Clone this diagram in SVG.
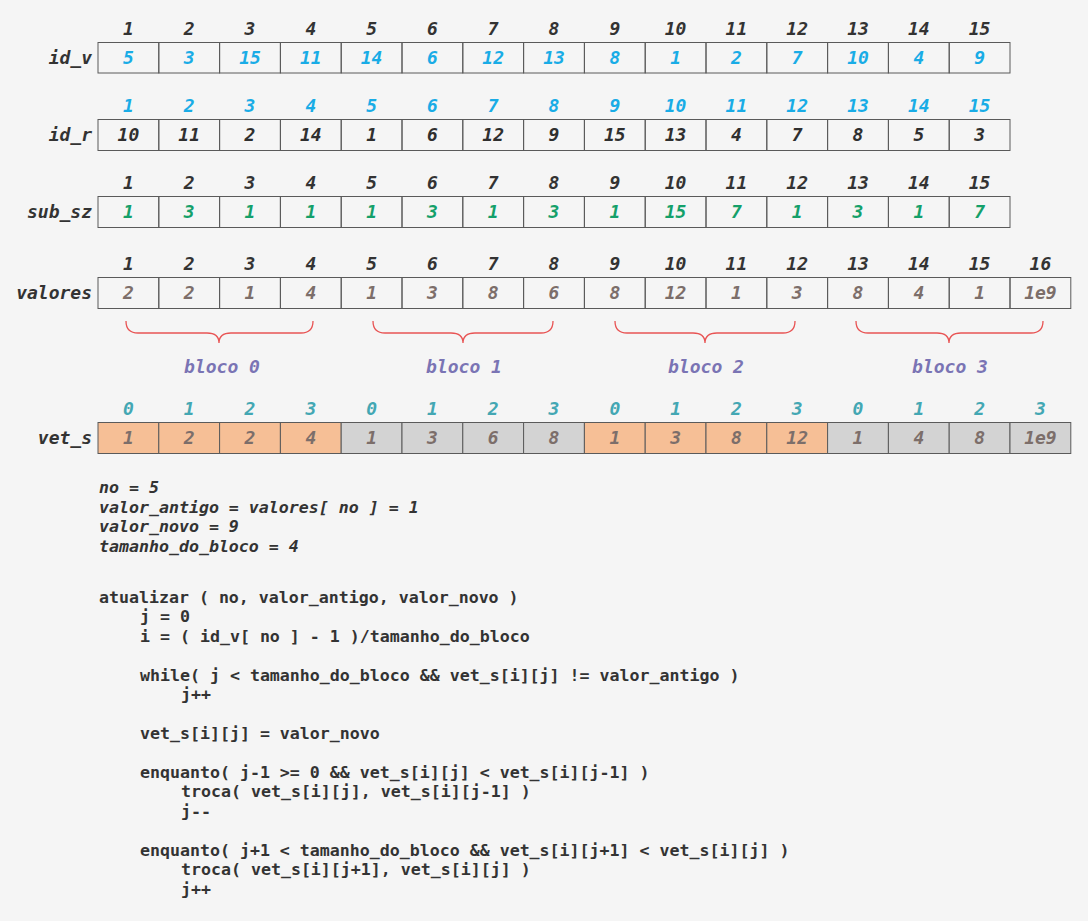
<svg xmlns="http://www.w3.org/2000/svg" width="1088" height="921" viewBox="0 0 1088 921">
<style>
text{font-family:"DejaVu Sans Mono","Liberation Mono",monospace}
.a{font-size:18px;font-weight:bold;font-style:italic;text-anchor:middle}
.lbl{font-size:18px;font-weight:bold;font-style:italic;text-anchor:end;fill:#333}
.h{fill:#333}
.cy{fill:#19ace6}
.dk{fill:#2f2f2f}
.gr{fill:#14a06a}
.br{fill:#7c6e6a}
.tl{fill:#43a7b3}
.cell{fill:none;stroke:#5a5a5a;stroke-width:1}
.o{fill:#f6bf96;stroke:#5a5a5a;stroke-width:1}
.g{fill:#d3d3d3;stroke:#5a5a5a;stroke-width:1}
.brace{fill:none;stroke:#e85454;stroke-width:1.3}
.bl{font-size:18px;font-weight:bold;font-style:italic;text-anchor:middle;fill:#7a74b4}
.code{font-size:16.6px;font-weight:bold;fill:#333}
.ci{font-size:16.6px;font-weight:bold;font-style:italic;fill:#333}
</style>
<rect width="1088" height="921" fill="#f5f5f5"/>

<g id="id_v">
<text class="lbl" x="92" y="64">id_v</text>
<g class="a h">
<text x="128.4" y="35">1</text><text x="189.2" y="35">2</text><text x="250" y="35">3</text><text x="310.8" y="35">4</text><text x="371.6" y="35">5</text><text x="432.4" y="35">6</text><text x="493.2" y="35">7</text><text x="554" y="35">8</text><text x="614.8" y="35">9</text><text x="675.6" y="35">10</text><text x="736.4" y="35">11</text><text x="797.2" y="35">12</text><text x="858" y="35">13</text><text x="918.8" y="35">14</text><text x="979.6" y="35">15</text>
</g>
<g class="cell">
<rect x="98" y="42.5" width="60.8" height="30.5"/><rect x="158.8" y="42.5" width="60.8" height="30.5"/><rect x="219.6" y="42.5" width="60.8" height="30.5"/><rect x="280.4" y="42.5" width="60.8" height="30.5"/><rect x="341.2" y="42.5" width="60.8" height="30.5"/><rect x="402" y="42.5" width="60.8" height="30.5"/><rect x="462.8" y="42.5" width="60.8" height="30.5"/><rect x="523.6" y="42.5" width="60.8" height="30.5"/><rect x="584.4" y="42.5" width="60.8" height="30.5"/><rect x="645.2" y="42.5" width="60.8" height="30.5"/><rect x="706" y="42.5" width="60.8" height="30.5"/><rect x="766.8" y="42.5" width="60.8" height="30.5"/><rect x="827.6" y="42.5" width="60.8" height="30.5"/><rect x="888.4" y="42.5" width="60.8" height="30.5"/><rect x="949.2" y="42.5" width="60.8" height="30.5"/>
</g>
<g class="a cy">
<text x="128.4" y="64">5</text><text x="189.2" y="64">3</text><text x="250" y="64">15</text><text x="310.8" y="64">11</text><text x="371.6" y="64">14</text><text x="432.4" y="64">6</text><text x="493.2" y="64">12</text><text x="554" y="64">13</text><text x="614.8" y="64">8</text><text x="675.6" y="64">1</text><text x="736.4" y="64">2</text><text x="797.2" y="64">7</text><text x="858" y="64">10</text><text x="918.8" y="64">4</text><text x="979.6" y="64">9</text>
</g>
</g>

<g id="id_r">
<text class="lbl" x="92" y="141">id_r</text>
<g class="a cy">
<text x="128.4" y="112">1</text><text x="189.2" y="112">2</text><text x="250" y="112">3</text><text x="310.8" y="112">4</text><text x="371.6" y="112">5</text><text x="432.4" y="112">6</text><text x="493.2" y="112">7</text><text x="554" y="112">8</text><text x="614.8" y="112">9</text><text x="675.6" y="112">10</text><text x="736.4" y="112">11</text><text x="797.2" y="112">12</text><text x="858" y="112">13</text><text x="918.8" y="112">14</text><text x="979.6" y="112">15</text>
</g>
<g class="cell">
<rect x="98" y="119.5" width="60.8" height="31"/><rect x="158.8" y="119.5" width="60.8" height="31"/><rect x="219.6" y="119.5" width="60.8" height="31"/><rect x="280.4" y="119.5" width="60.8" height="31"/><rect x="341.2" y="119.5" width="60.8" height="31"/><rect x="402" y="119.5" width="60.8" height="31"/><rect x="462.8" y="119.5" width="60.8" height="31"/><rect x="523.6" y="119.5" width="60.8" height="31"/><rect x="584.4" y="119.5" width="60.8" height="31"/><rect x="645.2" y="119.5" width="60.8" height="31"/><rect x="706" y="119.5" width="60.8" height="31"/><rect x="766.8" y="119.5" width="60.8" height="31"/><rect x="827.6" y="119.5" width="60.8" height="31"/><rect x="888.4" y="119.5" width="60.8" height="31"/><rect x="949.2" y="119.5" width="60.8" height="31"/>
</g>
<g class="a dk">
<text x="128.4" y="141">10</text><text x="189.2" y="141">11</text><text x="250" y="141">2</text><text x="310.8" y="141">14</text><text x="371.6" y="141">1</text><text x="432.4" y="141">6</text><text x="493.2" y="141">12</text><text x="554" y="141">9</text><text x="614.8" y="141">15</text><text x="675.6" y="141">13</text><text x="736.4" y="141">4</text><text x="797.2" y="141">7</text><text x="858" y="141">8</text><text x="918.8" y="141">5</text><text x="979.6" y="141">3</text>
</g>
</g>

<g id="sub_sz">
<text class="lbl" x="92" y="218">sub_sz</text>
<g class="a h">
<text x="128.4" y="189">1</text><text x="189.2" y="189">2</text><text x="250" y="189">3</text><text x="310.8" y="189">4</text><text x="371.6" y="189">5</text><text x="432.4" y="189">6</text><text x="493.2" y="189">7</text><text x="554" y="189">8</text><text x="614.8" y="189">9</text><text x="675.6" y="189">10</text><text x="736.4" y="189">11</text><text x="797.2" y="189">12</text><text x="858" y="189">13</text><text x="918.8" y="189">14</text><text x="979.6" y="189">15</text>
</g>
<g class="cell">
<rect x="98" y="196.5" width="60.8" height="31"/><rect x="158.8" y="196.5" width="60.8" height="31"/><rect x="219.6" y="196.5" width="60.8" height="31"/><rect x="280.4" y="196.5" width="60.8" height="31"/><rect x="341.2" y="196.5" width="60.8" height="31"/><rect x="402" y="196.5" width="60.8" height="31"/><rect x="462.8" y="196.5" width="60.8" height="31"/><rect x="523.6" y="196.5" width="60.8" height="31"/><rect x="584.4" y="196.5" width="60.8" height="31"/><rect x="645.2" y="196.5" width="60.8" height="31"/><rect x="706" y="196.5" width="60.8" height="31"/><rect x="766.8" y="196.5" width="60.8" height="31"/><rect x="827.6" y="196.5" width="60.8" height="31"/><rect x="888.4" y="196.5" width="60.8" height="31"/><rect x="949.2" y="196.5" width="60.8" height="31"/>
</g>
<g class="a gr">
<text x="128.4" y="218">1</text><text x="189.2" y="218">3</text><text x="250" y="218">1</text><text x="310.8" y="218">1</text><text x="371.6" y="218">1</text><text x="432.4" y="218">3</text><text x="493.2" y="218">1</text><text x="554" y="218">3</text><text x="614.8" y="218">1</text><text x="675.6" y="218">15</text><text x="736.4" y="218">7</text><text x="797.2" y="218">1</text><text x="858" y="218">3</text><text x="918.8" y="218">1</text><text x="979.6" y="218">7</text>
</g>
</g>

<g id="valores">
<text class="lbl" x="92" y="299">valores</text>
<g class="a h">
<text x="128.4" y="270">1</text><text x="189.2" y="270">2</text><text x="250" y="270">3</text><text x="310.8" y="270">4</text><text x="371.6" y="270">5</text><text x="432.4" y="270">6</text><text x="493.2" y="270">7</text><text x="554" y="270">8</text><text x="614.8" y="270">9</text><text x="675.6" y="270">10</text><text x="736.4" y="270">11</text><text x="797.2" y="270">12</text><text x="858" y="270">13</text><text x="918.8" y="270">14</text><text x="979.6" y="270">15</text><text x="1040.4" y="270">16</text>
</g>
<g class="cell">
<rect x="98" y="277.5" width="60.8" height="31"/><rect x="158.8" y="277.5" width="60.8" height="31"/><rect x="219.6" y="277.5" width="60.8" height="31"/><rect x="280.4" y="277.5" width="60.8" height="31"/><rect x="341.2" y="277.5" width="60.8" height="31"/><rect x="402" y="277.5" width="60.8" height="31"/><rect x="462.8" y="277.5" width="60.8" height="31"/><rect x="523.6" y="277.5" width="60.8" height="31"/><rect x="584.4" y="277.5" width="60.8" height="31"/><rect x="645.2" y="277.5" width="60.8" height="31"/><rect x="706" y="277.5" width="60.8" height="31"/><rect x="766.8" y="277.5" width="60.8" height="31"/><rect x="827.6" y="277.5" width="60.8" height="31"/><rect x="888.4" y="277.5" width="60.8" height="31"/><rect x="949.2" y="277.5" width="60.8" height="31"/><rect x="1010" y="277.5" width="60.8" height="31"/>
</g>
<g class="a br">
<text x="128.4" y="299">2</text><text x="189.2" y="299">2</text><text x="250" y="299">1</text><text x="310.8" y="299">4</text><text x="371.6" y="299">1</text><text x="432.4" y="299">3</text><text x="493.2" y="299">8</text><text x="554" y="299">6</text><text x="614.8" y="299">8</text><text x="675.6" y="299">12</text><text x="736.4" y="299">1</text><text x="797.2" y="299">3</text><text x="858" y="299">8</text><text x="918.8" y="299">4</text><text x="979.6" y="299">1</text><text x="1040.4" y="299">1e9</text>
</g>
</g>

<g id="blocos">
<path class="brace" d="M126,321 Q126,333 138,333 L207,333 Q219,333 219,343 Q219,333 231,333 L301,333 Q313,333 313,321"/>
<path class="brace" d="M373,321 Q373,333 385,333 L451,333 Q463,333 463,343 Q463,333 475,333 L541,333 Q553,333 553,321"/>
<path class="brace" d="M615,321 Q615,333 627,333 L693,333 Q705,333 705,343 Q705,333 717,333 L783,333 Q795,333 795,321"/>
<path class="brace" d="M856,321 Q856,333 868,333 L937,333 Q949,333 949,343 Q949,333 961,333 L1031,333 Q1043,333 1043,321"/>
<text class="bl" x="222" y="373">bloco 0</text>
<text class="bl" x="464" y="373">bloco 1</text>
<text class="bl" x="706" y="373">bloco 2</text>
<text class="bl" x="950" y="373">bloco 3</text>
</g>

<g id="vet_s">
<text class="lbl" x="92" y="444">vet_s</text>
<g class="a tl">
<text x="128.4" y="415">0</text><text x="189.2" y="415">1</text><text x="250" y="415">2</text><text x="310.8" y="415">3</text><text x="371.6" y="415">0</text><text x="432.4" y="415">1</text><text x="493.2" y="415">2</text><text x="554" y="415">3</text><text x="614.8" y="415">0</text><text x="675.6" y="415">1</text><text x="736.4" y="415">2</text><text x="797.2" y="415">3</text><text x="858" y="415">0</text><text x="918.8" y="415">1</text><text x="979.6" y="415">2</text><text x="1040.4" y="415">3</text>
</g>
<rect class="o" x="98" y="422.5" width="60.8" height="31"/><rect class="o" x="158.8" y="422.5" width="60.8" height="31"/><rect class="o" x="219.6" y="422.5" width="60.8" height="31"/><rect class="o" x="280.4" y="422.5" width="60.8" height="31"/>
<rect class="g" x="341.2" y="422.5" width="60.8" height="31"/><rect class="g" x="402" y="422.5" width="60.8" height="31"/><rect class="g" x="462.8" y="422.5" width="60.8" height="31"/><rect class="g" x="523.6" y="422.5" width="60.8" height="31"/>
<rect class="o" x="584.4" y="422.5" width="60.8" height="31"/><rect class="o" x="645.2" y="422.5" width="60.8" height="31"/><rect class="o" x="706" y="422.5" width="60.8" height="31"/><rect class="o" x="766.8" y="422.5" width="60.8" height="31"/>
<rect class="g" x="827.6" y="422.5" width="60.8" height="31"/><rect class="g" x="888.4" y="422.5" width="60.8" height="31"/><rect class="g" x="949.2" y="422.5" width="60.8" height="31"/><rect class="g" x="1010" y="422.5" width="60.8" height="31"/>
<g class="a br">
<text x="128.4" y="444">1</text><text x="189.2" y="444">2</text><text x="250" y="444">2</text><text x="310.8" y="444">4</text><text x="371.6" y="444">1</text><text x="432.4" y="444">3</text><text x="493.2" y="444">6</text><text x="554" y="444">8</text><text x="614.8" y="444">1</text><text x="675.6" y="444">3</text><text x="736.4" y="444">8</text><text x="797.2" y="444">12</text><text x="858" y="444">1</text><text x="918.8" y="444">4</text><text x="979.6" y="444">8</text><text x="1040.4" y="444">1e9</text>
</g>
</g>

<g id="vars" class="ci">
<text x="99" y="493">no = 5</text>
<text x="99" y="513">valor_antigo = valores[ no ] = 1</text>
<text x="99" y="532">valor_novo = 9</text>
<text x="99" y="552">tamanho_do_bloco = 4</text>
</g>

<g id="code" class="code">
<text x="99" y="603">atualizar ( no, valor_antigo, valor_novo )</text>
<text x="140" y="622">j = 0</text>
<text x="140" y="642">i = ( id_v[ no ] - 1 )/tamanho_do_bloco</text>
<text x="140" y="681">while( j &lt; tamanho_do_bloco &amp;&amp; vet_s[i][j] != valor_antigo )</text>
<text x="181" y="700">j++</text>
<text x="140" y="739">vet_s[i][j] = valor_novo</text>
<text x="140" y="778">enquanto( j-1 &gt;= 0 &amp;&amp; vet_s[i][j] &lt; vet_s[i][j-1] )</text>
<text x="181" y="797">troca( vet_s[i][j], vet_s[i][j-1] )</text>
<text x="181" y="817">j--</text>
<text x="140" y="856">enquanto( j+1 &lt; tamanho_do_bloco &amp;&amp; vet_s[i][j+1] &lt; vet_s[i][j] )</text>
<text x="181" y="875">troca( vet_s[i][j+1], vet_s[i][j] )</text>
<text x="181" y="895">j++</text>
</g>
</svg>
